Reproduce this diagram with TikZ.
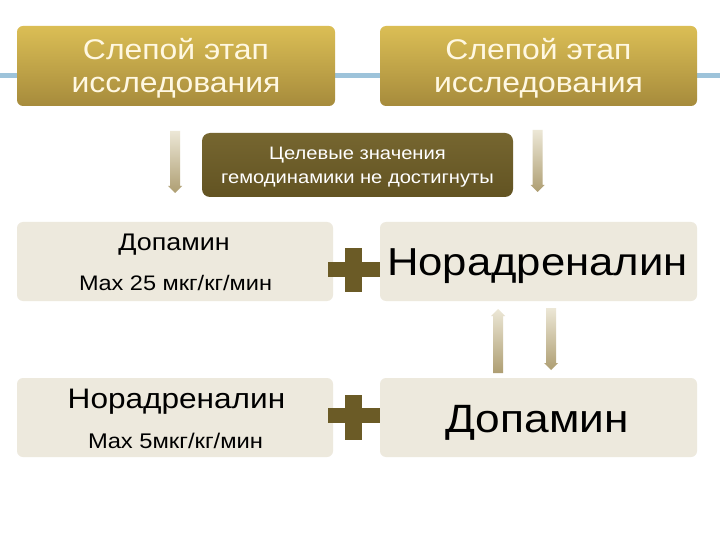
\documentclass[tikz,border=0pt]{standalone}
\usepackage{fontspec}
\usepackage{graphicx}
\setmainfont{Liberation Sans}
\usetikzlibrary{calc}
\definecolor{goldtop}{HTML}{DBBE55}
\definecolor{goldbot}{HTML}{A68B3C}
\definecolor{olivetop}{HTML}{766630}
\definecolor{olivebot}{HTML}{625322}
\definecolor{beige}{HTML}{EDE9DD}
\definecolor{cream}{HTML}{FFF8E2}
\definecolor{lineblue}{HTML}{9DC3DA}
\definecolor{arrtop}{HTML}{ECE7D6}
\definecolor{arrbot}{HTML}{AE9E72}
\definecolor{plusc}{HTML}{6B5B26}
\newcommand\hs[1]{\scalebox{1.12}[1]{#1}}
\tikzset{
  goldbox/.style={rounded corners=6pt, top color=goldtop, bottom color=goldbot, draw=none, minimum width=318pt, minimum height=80pt, inner sep=0pt},
  olivebox/.style={rounded corners=8pt, top color=olivetop, bottom color=olivebot, draw=none, minimum width=311pt, minimum height=64pt, inner sep=0pt},
  beigebox/.style={rounded corners=6pt, fill=beige, draw=none, minimum width=317pt, minimum height=79pt, inner sep=0pt},
  txt/.style={anchor=base, inner sep=0pt},
  plusbar/.style={fill=plusc, draw=none}
}
\newcommand\gradarrow[3]{%
  \shade[top color=arrtop, bottom color=arrbot]
    let \p1=(#1), \p2=(#2) in
    ({\x1-5pt},\y1) -- ({\x1+5pt},\y1) -- ({\x2+5pt},{\y2+#3*7pt}) -- ({\x2+7pt},{\y2+#3*7pt})
    -- (\x2,\y2) -- ({\x2-7pt},{\y2+#3*7pt}) -- ({\x2-5pt},{\y2+#3*7pt}) -- cycle;}
\begin{document}
\begin{tikzpicture}[x=1pt,y=-1pt]
\useasboundingbox (0,0) rectangle (720,540);
\fill[white] (0,0) rectangle (720,540);
% blue rule
\fill[lineblue] (0,73) rectangle (720,78);
% top boxes
\node[goldbox] (tl) at (176,66) {};
\node[goldbox, minimum width=317pt] (tr) at (538.5,66) {};
\node[txt, text=cream, font=\fontsize{28.5}{33}\selectfont] (tl1) at (176,60) {\hs{Слепой этап}};
\node[txt, text=cream, font=\fontsize{28.5}{33}\selectfont] (tl2) at (176,93) {\hs{исследования}};
\node[txt, text=cream, font=\fontsize{28.5}{33}\selectfont] (tr1) at (538.5,60) {\hs{Слепой этап}};
\node[txt, text=cream, font=\fontsize{28.5}{33}\selectfont] (tr2) at (538.5,93) {\hs{исследования}};
% middle box
\node[olivebox] (mid) at (357.5,165) {};
\node[txt, text=white, font=\fontsize{18}{24}\selectfont] (mid1) at (357.5,160) {\hs{Целевые значения}};
\node[txt, text=white, font=\fontsize{18}{24}\selectfont] (mid2) at (357.5,184) {\hs{гемодинамики не достигнуты}};
% arrows beside the middle box
\coordinate (a1s) at (175,131);
\coordinate (a1e) at (175,193);
\coordinate (a2s) at (537.5,130);
\coordinate (a2e) at (537.5,192);
\gradarrow{a1s}{a1e}{1}
\gradarrow{a2s}{a2e}{1}
% row 1
\node[beigebox, minimum width=316pt] (r1l) at (175,261.5) {};
\node[beigebox] (r1r) at (538.5,261.5) {};
\node[txt, font=\fontsize{24}{28}\selectfont] (r1l1) at (174,250) {\hs{Допамин}};
\node[txt, font=\fontsize{21}{24}\selectfont] (r1l2) at (175.5,290) {\hs{Max 25 мкг/кг/мин}};
\node[txt, font=\fontsize{39}{48}\selectfont] (r1r1) at (537.5,275) {\hs{Норадреналин}};
% row 2
\node[beigebox, minimum width=316pt] (r2l) at (175,417.5) {};
\node[beigebox] (r2r) at (538.5,417.5) {};
\node[txt, font=\fontsize{28.2}{33}\selectfont] (r2l1) at (176.5,408) {\hs{Норадреналин}};
\node[txt, font=\fontsize{21.2}{24}\selectfont] (r2l2) at (175.5,448) {\hs{Max 5мкг/кг/мин}};
\node[txt, font=\fontsize{39.5}{50}\selectfont] (r2r1) at (537,432) {\hs{Допамин}};
% plus signs
\fill[plusbar] (328,262) rectangle (380,277);
\fill[plusbar] (345,248) rectangle (362,292);
\fill[plusbar] (328,408) rectangle (380,423);
\fill[plusbar] (345,395) rectangle (362,440);
% arrows between right boxes
\coordinate (a3s) at (498,373);
\coordinate (a3e) at (498,309);
\coordinate (a4s) at (551,308);
\coordinate (a4e) at (551,370);
\gradarrow{a3s}{a3e}{-1}
\gradarrow{a4s}{a4e}{1}
\end{tikzpicture}
\end{document}
